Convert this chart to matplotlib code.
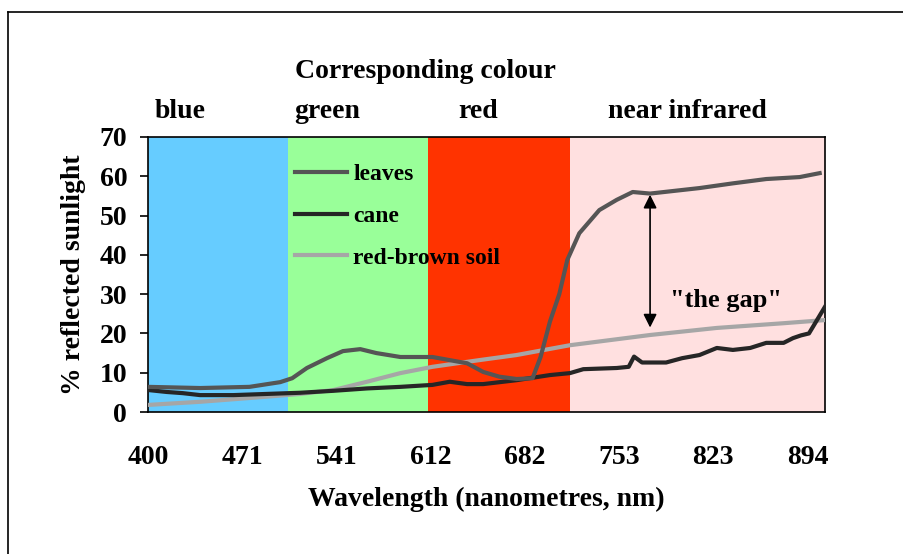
import matplotlib.pyplot as plt
from matplotlib.lines import Line2D

plt.rcParams['font.family'] = ['Liberation Serif', 'DejaVu Serif']
plt.rcParams['font.weight'] = 'bold'

# Wavelengths (nm) and % reflectance
leaves_x = [400, 439, 476, 499, 508, 519, 534, 546, 559, 571, 589, 613, 626, 639,
            651, 663, 676, 688, 694, 701, 708, 714, 723, 738, 751, 763, 776, 813,
            838, 863, 888, 903]
leaves_y = [6.4, 6.1, 6.4, 7.6, 8.6, 11.2, 13.7, 15.5, 16.0, 15.0, 14.0, 14.0, 13.2, 12.4,
            10.2, 9.0, 8.4, 8.6, 14.0, 23.0, 30.0, 38.7, 45.5, 51.4, 54.0, 56.0, 55.6, 57.0,
            58.2, 59.3, 59.8, 60.8]

cane_x = [400, 414, 426, 439, 464, 489, 514, 539, 564, 589, 613, 626, 639, 651, 676,
          701, 716, 726, 751, 760, 764, 770, 788, 800, 813, 826, 838, 851, 863, 876,
          883, 889, 895, 901, 907]
cane_y = [5.6, 5.1, 4.8, 4.3, 4.3, 4.6, 4.9, 5.4, 6.0, 6.4, 6.9, 7.7, 7.1, 7.1, 8.1,
          9.4, 9.9, 10.9, 11.2, 11.5, 14.1, 12.6, 12.6, 13.7, 14.5, 16.3, 15.8, 16.3, 17.6, 17.6,
          18.8, 19.5, 20.0, 23.4, 26.8]

soil_x = [400, 439, 489, 514, 539, 564, 589, 613, 648, 676, 716, 776, 826, 876, 907]
soil_y = [1.8, 2.6, 3.9, 4.6, 5.6, 7.7, 9.9, 11.5, 13.2, 14.5, 17.0, 19.6, 21.4, 22.6, 23.4]

tick_vals = [400, 471, 541, 612, 682, 753, 823, 894]
band_edges = [400, 505, 610, 716, 907]
band_colors = ['#66CCFF', '#99FF99', '#FF3300', '#FFE0E0']
band_names = ['blue', 'green', 'red', 'near infrared']

fig = plt.figure(figsize=(9.04, 5.54), dpi=100)
ax = fig.add_axes([148 / 904, 1 - 412 / 554, (825 - 148) / 904, (412 - 137) / 554])

for i in range(len(band_colors)):
    ax.axvspan(band_edges[i], band_edges[i + 1], color=band_colors[i], lw=0, zorder=0)

ax.plot(soil_x, soil_y, color='#A6A6A6', lw=3, zorder=3)
ax.plot(cane_x, cane_y, color='#262626', lw=3, zorder=4)
ax.plot(leaves_x, leaves_y, color='#555555', lw=3, zorder=5)

ax.set_xlim(400, 907)
ax.set_ylim(0, 70)
ax.set_yticks(range(0, 71, 10))
ax.set_xticks(tick_vals)
ax.set_xticklabels([str(v) for v in tick_vals])
ax.tick_params(axis='x', length=0, pad=24, labelsize=20)
ax.tick_params(axis='y', length=6, width=1.2, direction='out', pad=9, labelsize=20)
for s in ax.spines.values():
    s.set_linewidth(1.2)

ax.set_ylabel('% reflected sunlight', fontsize=20, fontweight='bold', labelpad=10)
ax.set_xlabel('Wavelength (nanometres, nm)', fontsize=20, fontweight='bold', labelpad=12)

# legend placed inside the green band
handles = [Line2D([], [], color='#555555', lw=3),
           Line2D([], [], color='#262626', lw=3),
           Line2D([], [], color='#A6A6A6', lw=3)]
ax.legend(handles, ['leaves', 'cane', 'red-brown soil'], loc='upper left',
          bbox_to_anchor=(0.2, 0.945), frameon=False, fontsize=17,
          handlelength=2.2, handletextpad=0.25, labelspacing=0.85, borderpad=0)

# "the gap" arrow
ax.annotate('', xy=(776, 21.5), xytext=(776, 55.3),
            arrowprops=dict(arrowstyle='<|-|>', color='black', lw=1.2,
                            mutation_scale=20, shrinkA=0, shrinkB=0))
ax.text(833, 28.5, '"the gap"', fontsize=19, fontweight='bold', ha='center', va='center')

fig.text(425 / 904, 1 - 71 / 554, 'Corresponding colour', fontsize=20,
         fontweight='bold', ha='center', va='center')
for name, px in zip(band_names, [180, 327, 478, 687]):
    fig.text(px / 904, 1 - 111 / 554, name, fontsize=20, fontweight='bold',
             ha='center', va='center')

fig.add_artist(Line2D([8 / 904, 8 / 904], [0, 1 - 12 / 554], color='black', lw=1.2))
fig.add_artist(Line2D([8 / 904, 1], [1 - 12 / 554, 1 - 12 / 554], color='black', lw=1.2))

fig.savefig('out.png', dpi=100)
